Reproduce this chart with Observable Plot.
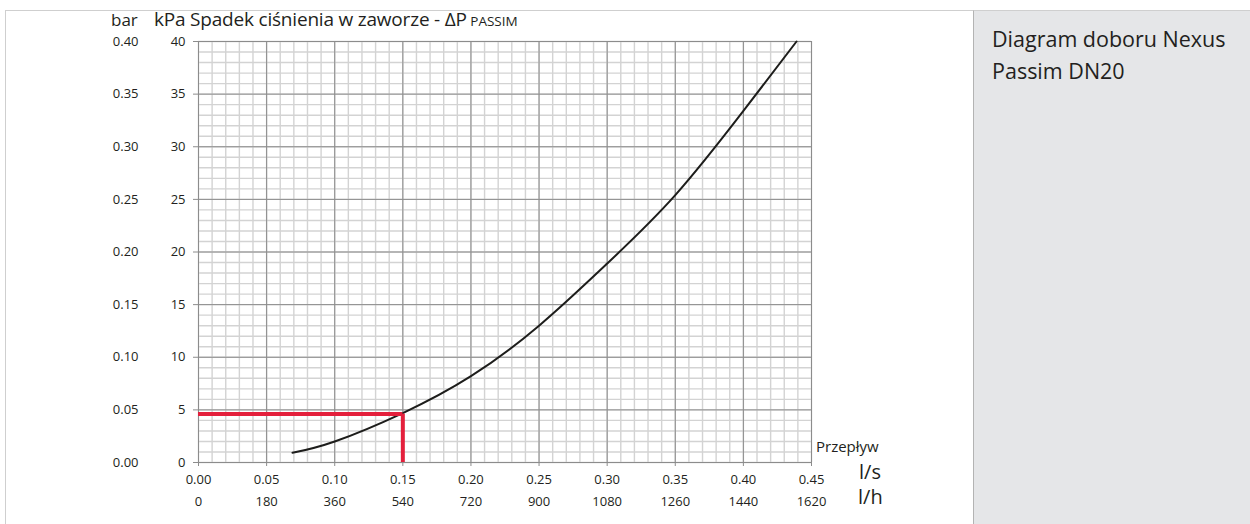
<!DOCTYPE html>
<html>
<head>
<meta charset="utf-8">
<script src="https://cdn.jsdelivr.net/npm/d3@7"></script>
<script src="https://cdn.jsdelivr.net/npm/@observablehq/plot@0.6"></script>
<style>
  html, body { margin: 0; padding: 0; background: #fff; }
  #wrap { position: relative; width: 1250px; height: 524px; overflow: hidden; font-family: "Open Sans", sans-serif; color: #231f20; }
  #frameTop { position: absolute; left: 5px; top: 10px; width: 970px; height: 0; border-top: 1.5px solid #cfcfcf; }
  #frameLeft { position: absolute; left: 5px; top: 10px; width: 0; height: 520px; border-left: 1.5px solid #cfcfcf; }
  #panel { position: absolute; left: 973px; top: 10px; width: 290px; height: 520px; background: #e5e6e8; border-left: 1.5px solid #b3b3b3; border-top: 1.5px solid #cfcfcf; }
  #panel div { position: absolute; left: 18px; top: 12px; font-size: 21.5px; line-height: 32px; color: #231f20; }
  .lbl { position: absolute; white-space: nowrap; line-height: 1; color: #231f20; }
  #chart { position: absolute; left: 0; top: 0; }
</style>
</head>
<body>
<div id="wrap">
  <div id="frameTop"></div>
  <div id="frameLeft"></div>
  <div id="panel"><div>Diagram doboru Nexus<br>Passim DN20</div></div>
  <div id="chart"></div>
  <div class="lbl" style="left:111px; top:11px; font-size:17px;">bar</div>
  <div class="lbl" style="left:154px; top:10px; font-size:19px; letter-spacing:-0.2px;">kPa Spadek ciśnienia w zaworze - ΔP<span style="font-size:13.5px; letter-spacing:0;"> PASSIM</span></div>
  <div class="lbl" style="left:816px; top:439px; font-size:15px;">Przepływ</div>
  <div class="lbl" style="left:859px; top:462px; font-size:20px;">l/s</div>
  <div class="lbl" style="left:858px; top:487px; font-size:20px;">l/h</div>
</div>
<script>
// Flow (l/s) and pressure drop (kPa)
const flowLs = [0.069, 0.10, 0.15, 0.20, 0.25, 0.30, 0.35, 0.40, 0.439];
const dpKpa  = [0.92, 2.0, 4.7, 8.2, 13.0, 18.9, 25.4, 33.4, 40.0];

// Selected operating point (red guide lines)
const selFlow = [0.15];
const selDp = [4.6];

// Tick values and labels
const xTicks   = [0, 0.05, 0.10, 0.15, 0.20, 0.25, 0.30, 0.35, 0.40, 0.45];
const lsLabels = ["0.00","0.05","0.10","0.15","0.20","0.25","0.30","0.35","0.40","0.45"];
const lhLabels = ["0","180","360","540","720","900","1080","1260","1440","1620"];
const yTicks    = [0, 5, 10, 15, 20, 25, 30, 35, 40];
const kpaLabels = ["0","5","10","15","20","25","30","35","40"];
const barLabels = ["0.00","0.05","0.10","0.15","0.20","0.25","0.30","0.35","0.40"];

const minorX = d3.range(0, 46).map(i => i / 100);
const minorY = d3.range(0, 41);

const curve = flowLs.map((q, i) => ({q, dp: dpKpa[i]}));

const chart = Plot.plot({
  width: 960,
  height: 524,
  marginLeft: 198,
  marginRight: 149,
  marginTop: 41,
  marginBottom: 62,
  style: {fontFamily: "'Open Sans', sans-serif", fontSize: "13px", color: "#231f20", background: "transparent"},
  x: {domain: [0, 0.45]},
  y: {domain: [0, 40]},
  marks: [
    Plot.ruleX(minorX, {stroke: "#d3d3d3", strokeWidth: 1.4}),
    Plot.ruleY(minorY, {stroke: "#d3d3d3", strokeWidth: 1.4}),
    Plot.ruleX(xTicks, {stroke: "#8c8c8c", strokeWidth: 1}),
    Plot.ruleY(yTicks, {stroke: "#8c8c8c", strokeWidth: 1}),
    Plot.axisY({ticks: yTicks, tickFormat: (d, i) => kpaLabels[i], tickSize: 5, tickPadding: 8, label: null, stroke: "#8c8c8c", fill: "#231f20"}),
    Plot.axisY({ticks: yTicks, tickFormat: (d, i) => barLabels[i], tickSize: 0, tickPadding: 60, label: null, fill: "#231f20"}),
    Plot.axisX({ticks: xTicks, tickFormat: (d, i) => lsLabels[i], tickSize: 4, tickPadding: 8, label: null, stroke: "#8c8c8c", fill: "#231f20"}),
    Plot.axisX({ticks: xTicks, tickFormat: (d, i) => lhLabels[i], tickSize: 0, tickPadding: 34, label: null, fill: "#231f20"}),
    Plot.line(curve, {x: "q", y: "dp", curve: "natural", stroke: "#1d1d1b", strokeWidth: 2}),
    Plot.ruleY(selDp, {x1: 0, x2: selFlow[0], stroke: "#e4203c", strokeWidth: 4}),
    Plot.ruleX(selFlow, {y1: 0, y2: selDp[0], stroke: "#e4203c", strokeWidth: 4})
  ]
});
document.getElementById("chart").appendChild(chart);
</script>
</body>
</html>
